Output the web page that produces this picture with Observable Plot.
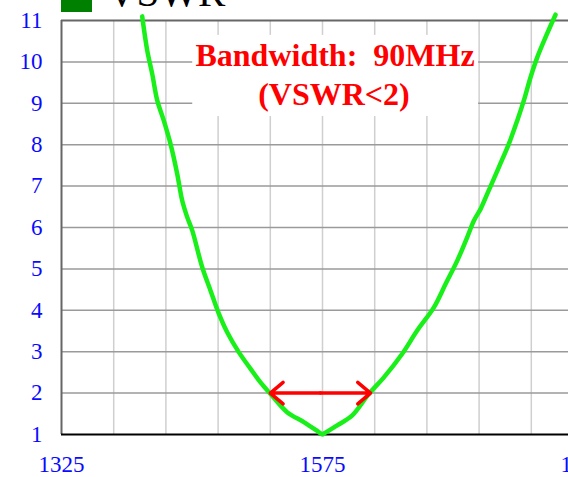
<!DOCTYPE html>
<html>
<head>
<meta charset="utf-8">
<script src="https://cdn.jsdelivr.net/npm/d3@7"></script>
<script src="https://cdn.jsdelivr.net/npm/@observablehq/plot@0.6"></script>
<style>
  html, body { margin: 0; padding: 0; background: #fff; overflow: hidden; width: 568px; height: 477px; }
  #wrap { position: relative; width: 568px; height: 477px; overflow: hidden; }
  #chart { position: absolute; left: 0; top: 0; width: 623px; }
  #chart svg { max-width: none !important; }
  #legend { position: absolute; left: 61px; top: -20px; height: 32px; font-family: "Liberation Serif", serif; }
  #legend .sw { position: absolute; left: 0; top: 0; width: 31px; height: 31.7px; background: #008000; }
  #legend .lb { position: absolute; left: 46px; top: -8.3px; font-size: 41px; line-height: 41px; color: #000; white-space: nowrap; }
</style>
</head>
<body>
<div id="wrap">
  <div id="chart"></div>
  <div id="legend"><div class="sw"></div><div class="lb">VSWR</div></div>
</div>
<script>
// Frequency (MHz) and VSWR
const freq = [1402.3, 1407.1, 1411.9, 1416.7, 1423.0, 1429.4, 1435.8, 1440.6, 1445.4, 1450.2, 1459.8, 1467.7, 1475.7, 1483.7, 1494.8, 1506.0, 1515.6, 1525.2, 1541.1, 1557.1, 1571.4, 1575.0, 1576.3, 1589.1, 1603.5, 1619.4, 1633.8, 1651.4, 1665.7, 1681.7, 1693.0, 1704.1, 1713.7, 1720.1, 1726.5, 1732.8, 1744.0, 1753.5, 1761.5, 1767.9, 1774.3, 1780.7, 1788.7, 1798.2];
const vswr = [11.10, 10.28, 9.71, 9.07, 8.58, 8.02, 7.30, 6.65, 6.25, 5.93, 5.04, 4.48, 3.92, 3.47, 2.99, 2.59, 2.26, 1.98, 1.54, 1.30, 1.06, 1.00, 1.02, 1.22, 1.46, 1.98, 2.38, 2.95, 3.51, 4.07, 4.64, 5.20, 5.77, 6.17, 6.45, 6.81, 7.46, 8.02, 8.58, 9.07, 9.63, 10.11, 10.60, 11.14];

const xTickLabels = [1325, 1575, 1825];
const xGrid = [1375, 1425, 1475, 1525, 1575, 1625, 1675, 1725, 1775, 1825];
const yTicks = [1, 2, 3, 4, 5, 6, 7, 8, 9, 10, 11];
const yGrid = [2, 3, 4, 5, 6, 7, 8, 9, 10];

// Bandwidth marker (VSWR = 2 crossing)
const bandLow = [1525];
const bandHigh = [1621];
const bandLevel = [2];

// Annotation text and its white backing box
const annotLines = ["Bandwidth:  90MHz", "(VSWR<2)"];
const annotX = [1587, 1586];
const annotY = [9.91, 8.95];
const annotBoxX = [1450.7, 1724.5];
const annotBoxY = [8.68, 10.64];

const curve = freq.map((f, i) => ({f, v: vswr[i]}));
const annots = annotLines.map((t, i) => ({t, x: annotX[i], y: annotY[i]}));
const mid = (bandLow[0] + bandHigh[0]) / 2;
const arrows = [
  {x1: mid, x2: bandLow[0], y: bandLevel[0]},
  {x1: mid, x2: bandHigh[0], y: bandLevel[0]}
];
const box = [{x1: annotBoxX[0], x2: annotBoxX[1], y1: annotBoxY[0], y2: annotBoxY[1]}];

const chart = Plot.plot({
  width: 623,
  height: 477,
  marginLeft: 61,
  marginRight: 40,
  marginTop: 20,
  marginBottom: 43,
  style: {background: "transparent", fontFamily: "Liberation Serif, serif", fontSize: "23px", overflow: "visible", maxWidth: "none"},
  x: {domain: [1325, 1825], label: null},
  y: {domain: [1, 11], label: null},
  marks: [
    Plot.ruleX(xGrid, {stroke: "#cfcfcf", strokeWidth: 1.5}),
    Plot.ruleY(yGrid, {stroke: "#9a9a9a", strokeWidth: 1.5}),
    Plot.rect(box, {x1: "x1", x2: "x2", y1: "y1", y2: "y2", fill: "#fff"}),
    Plot.ruleY([11], {stroke: "#666", strokeWidth: 2}),
    Plot.ruleX([1325], {stroke: "#666", strokeWidth: 2}),
    Plot.ruleY([1], {stroke: "#000", strokeWidth: 2}),
    Plot.axisX(xTickLabels, {tickSize: 0, tickPadding: 21, fill: "#0a0aff", fontSize: 23, fontFamily: "Liberation Serif, serif", tickFormat: d => String(d), label: null}),
    Plot.axisY(yTicks, {tickSize: 0, tickPadding: 19, fill: "#0a0aff", fontSize: 23, fontFamily: "Liberation Serif, serif", label: null}),
    Plot.line(curve, {x: "f", y: "v", stroke: "#19ef19", strokeWidth: 4.5, curve: "catmull-rom", strokeLinejoin: "round", strokeLinecap: "round"}),
    Plot.arrow(arrows, {x1: "x1", x2: "x2", y1: "y", y2: "y", stroke: "#ff0000", strokeWidth: 3.5, headLength: 17, headAngle: 80}),
    Plot.text(annots, {x: "x", y: "y", text: "t", fill: "#ff0000", fontSize: 32, fontWeight: "bold", fontFamily: "Liberation Serif, serif", lineAnchor: "bottom", textAnchor: "middle"})
  ]
});
document.getElementById("chart").appendChild(chart);
</script>
</body>
</html>
